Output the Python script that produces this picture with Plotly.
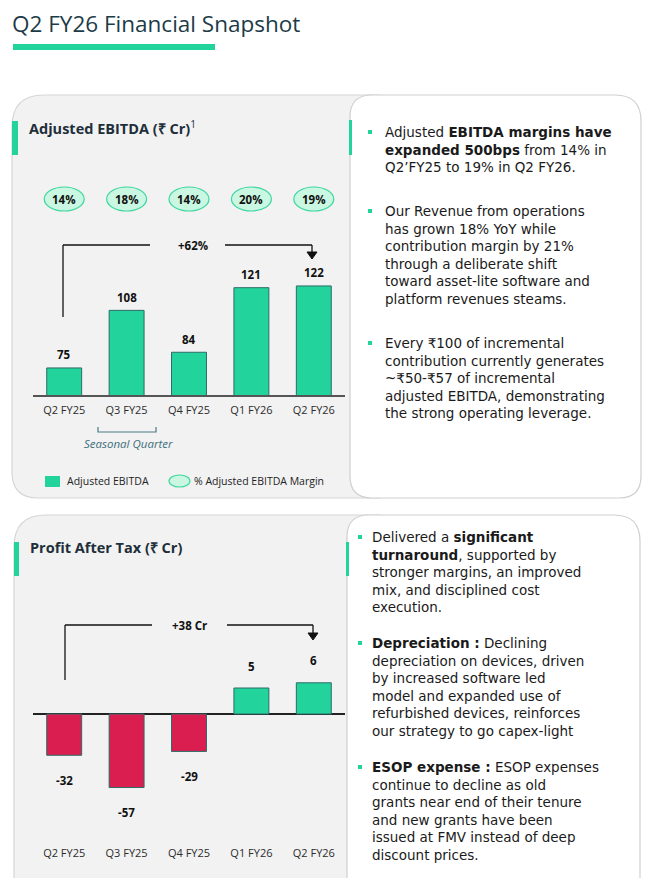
import plotly.graph_objects as go

W, H = 661, 878
OFF = 8  # page body margin of the browser


def X(p):
    return (p - OFF) / W


def Y(p):
    return 1 - (p - OFF) / H


# ---------------- data ----------------
quarters = ["Q2 FY25", "Q3 FY25", "Q4 FY25", "Q1 FY26", "Q2 FY26"]
ebitda = [75, 108, 84, 121, 122]
ebitda_margin = ["14%", "18%", "14%", "20%", "19%"]
pat = [-32, -57, -29, 5, 6]
ebitda_change = "+62%"
pat_change = "+38 Cr"

title_text = "Q2 FY26 Financial Snapshot"
ebitda_title = "<b>Adjusted EBITDA (₹ Cr)</b><sup>1</sup>"
pat_title = "<b>Profit After Tax (₹ Cr)</b>"

ebitda_notes = [
    ["Adjusted <b>EBITDA margins have</b>",
     "<b>expanded 500bps</b> from 14% in",
     "Q2’FY25 to 19% in Q2 FY26."],
    ["Our Revenue from operations",
     "has grown 18% YoY while",
     "contribution margin by 21%",
     "through a deliberate shift",
     "toward asset-lite software and",
     "platform revenues steams."],
    ["Every ₹100 of incremental",
     "contribution currently generates",
     "~₹50-₹57 of incremental",
     "adjusted EBITDA, demonstrating",
     "the strong operating leverage."],
]
pat_notes = [
    ["Delivered a <b>significant</b>",
     "<b>turnaround</b>, supported by",
     "stronger margins, an improved",
     "mix, and disciplined cost",
     "execution."],
    ["<b>Depreciation :</b> Declining",
     "depreciation on devices, driven",
     "by increased software led",
     "model and expanded use of",
     "refurbished devices, reinforces",
     "our strategy to go capex-light"],
    ["<b>ESOP expense :</b> ESOP expenses",
     "continue to decline as old",
     "grants near end of their tenure",
     "and new grants have been",
     "issued at FMV instead of deep",
     "discount prices."],
]

# ---------------- style ----------------
FONT = "Open Sans"
NOTE_FONT = "DejaVu Sans"
GREEN = "#22D39C"
RED = "#DA1E50"
EDGE = "#2d6b68"
PILL_FILL = "#c9f7e1"
PILL_LINE = "#3fd6a1"
DARK = "#1d3b47"
TXT = "#1a1a1a"

pat_neg = [v if v < 0 else None for v in pat]
pat_pos = [v if v > 0 else None for v in pat]

fig = go.Figure()
fig.add_trace(go.Bar(x=quarters, y=ebitda, xaxis="x", yaxis="y",
                     marker=dict(color=GREEN, line=dict(color=EDGE, width=1)),
                     showlegend=False, hoverinfo="skip"))
fig.add_trace(go.Bar(x=quarters, y=pat_neg, xaxis="x2", yaxis="y3",
                     marker=dict(color=RED, line=dict(color=EDGE, width=1)),
                     showlegend=False, hoverinfo="skip"))
fig.add_trace(go.Bar(x=quarters, y=pat_pos, xaxis="x2", yaxis="y4",
                     marker=dict(color=GREEN, line=dict(color=EDGE, width=1)),
                     showlegend=False, hoverinfo="skip"))


def rrect(x0, y0, x1, y1, rtl, rtr, rbr, rbl):
    pts = []
    pts.append(f"M {X(x0 + rtl)},{Y(y0)}")
    pts.append(f"L {X(x1 - rtr)},{Y(y0)}")
    pts.append(f"Q {X(x1)},{Y(y0)} {X(x1)},{Y(y0 + rtr)}")
    pts.append(f"L {X(x1)},{Y(y1 - rbr)}")
    pts.append(f"Q {X(x1)},{Y(y1)} {X(x1 - rbr)},{Y(y1)}")
    pts.append(f"L {X(x0 + rbl)},{Y(y1)}")
    pts.append(f"Q {X(x0)},{Y(y1)} {X(x0)},{Y(y1 - rbl)}")
    pts.append(f"L {X(x0)},{Y(y0 + rtl)}")
    pts.append(f"Q {X(x0)},{Y(y0)} {X(x0 + rtl)},{Y(y0)}")
    pts.append("Z")
    return " ".join(pts)


shapes = []


def prect(x0, y0, x1, y1, fill, line=None, lw=0, layer="below"):
    shapes.append(dict(type="rect", xref="paper", yref="paper",
                       x0=X(x0), x1=X(x1), y0=Y(y1), y1=Y(y0),
                       fillcolor=fill, line=dict(color=line or fill, width=lw),
                       layer=layer))


def pline(x0, y0, x1, y1, color="#111111", width=1.3):
    shapes.append(dict(type="line", xref="paper", yref="paper",
                       x0=X(x0), x1=X(x1), y0=Y(y0), y1=Y(y1),
                       line=dict(color=color, width=width)))


def ppath(d, fill, line, lw=1, layer="below"):
    shapes.append(dict(type="path", xref="paper", yref="paper", path=d,
                       fillcolor=fill, line=dict(color=line, width=lw), layer=layer))


# panels
ppath(rrect(12, 95, 380, 498, 32, 0, 0, 26), "#f2f2f2", "#d6d6d6", 1.2)
ppath(rrect(350, 95, 641, 498, 22, 26, 22, 22), "#ffffff", "#cfcfcf", 1.2)
ppath(rrect(14, 515, 380, 900, 32, 0, 0, 0), "#f2f2f2", "#d6d6d6", 1.2)
ppath(rrect(347, 515, 640, 900, 22, 26, 0, 0), "#ffffff", "#cfcfcf", 1.2)

# accents
prect(12, 121, 18, 155, GREEN)
prect(349, 120, 352, 155, GREEN)
prect(14, 542, 19, 576, GREEN)
prect(346, 542, 349, 576, GREEN)

# title underline
prect(13, 44, 215, 50, GREEN, layer="above")

# margin pills (on category axis)
pill_half = 0.32
for i, m in enumerate(ebitda_margin):
    shapes.append(dict(type="circle", xref="x", yref="paper",
                       x0=i - pill_half, x1=i + pill_half, y0=Y(211), y1=Y(187),
                       fillcolor=PILL_FILL, line=dict(color=PILL_LINE, width=1.2)))

# +62% bracket
pline(63, 317, 63, 245)
pline(63, 245, 150, 245)
pline(225, 245, 312, 245)
pline(312, 245, 312, 252)
ppath(f"M {X(307)},{Y(252)} L {X(317)},{Y(252)} L {X(312)},{Y(259)} Z",
      "#111111", "#111111", 1, layer="above")

# +38 Cr bracket
pline(65, 680, 65, 625)
pline(65, 625, 152, 625)
pline(227, 625, 313, 625)
pline(313, 625, 313, 633)
ppath(f"M {X(308)},{Y(633)} L {X(318)},{Y(633)} L {X(313)},{Y(640)} Z",
      "#111111", "#111111", 1, layer="above")

# seasonal quarter bracket
shapes.append(dict(type="path", xref="paper", yref="paper",
                   path=f"M {X(98)},{Y(427)} L {X(98)},{Y(432)} L {X(156)},{Y(432)} L {X(156)},{Y(427)}",
                   line=dict(color="#4a7a85", width=1.2)))

# legend
prect(45, 476, 60, 487, GREEN, layer="above")
shapes.append(dict(type="circle", xref="paper", yref="paper",
                   x0=X(169), x1=X(190), y0=Y(487), y1=Y(475),
                   fillcolor=PILL_FILL, line=dict(color=PILL_LINE, width=1.2)))

# bullets
for yy in (132, 211, 343):
    prect(368, yy - 2, 372, yy + 2, GREEN, layer="above")
for yy in (537, 643, 767):
    prect(358, yy - 2, 362, yy + 2, GREEN, layer="above")

ann = []


def ptext(x, y, text, size=14, color=TXT, xanchor="left", bold=False, italic=False,
          family=FONT, weight=None):
    t = text
    if bold:
        t = f"<b>{t}</b>"
    if italic:
        t = f"<i>{t}</i>"
    f = dict(family=family, size=size, color=color)
    if weight:
        f["weight"] = weight
    ann.append(dict(xref="paper", yref="paper", x=X(x), y=Y(y), text=t,
                    showarrow=False, xanchor=xanchor, yanchor="middle", align="left",
                    borderpad=0, font=f))


ptext(11, 23, title_text, size=22.5, color=DARK, weight=500)
ptext(28, 127, ebitda_title, size=14.5, color="#1e2f3a")
ptext(29, 547, pat_title, size=14.5, color="#1e2f3a")
ptext(193, 245, ebitda_change, size=11.5, color="#111111", xanchor="center", bold=True)
ptext(189, 625, pat_change, size=11.5, color="#111111", xanchor="center", bold=True)
ptext(128, 443, "Seasonal Quarter", size=11.5, color="#3e6f7c", xanchor="center", italic=True)
ptext(66, 481, "Adjusted EBITDA", size=10.5, color="#222222")
ptext(193, 481, "% Adjusted EBITDA Margin", size=10.5, color="#222222")

# pill texts
for q, m in zip(quarters, ebitda_margin):
    ann.append(dict(xref="x", yref="paper", x=q, y=Y(199), text=f"<b>{m}</b>",
                    showarrow=False, xanchor="center", yanchor="middle",
                    font=dict(family=FONT, size=11.5, color="#111111")))

# value labels
for q, v in zip(quarters, ebitda):
    ann.append(dict(xref="x", yref="y", x=q, y=v, yshift=13, text=f"<b>{v}</b>",
                    showarrow=False, xanchor="center", yanchor="middle",
                    font=dict(family=FONT, size=11.5, color="#111111")))
for q, v in zip(quarters, pat):
    ann.append(dict(xref="x2", yref="y3" if v < 0 else "y4", x=q, y=v,
                    yshift=-25 if v < 0 else 22, text=f"<b>{v}</b>",
                    showarrow=False, xanchor="center", yanchor="middle",
                    font=dict(family=FONT, size=11.5, color="#111111")))

# notes: one multi-line text per paragraph (line pitch = 1.3 * font size)
NOTE_SIZE = 13.5
PITCH = 1.3 * NOTE_SIZE
for start, para in zip([132, 211, 343], ebitda_notes):
    mid = start + (len(para) - 1) * PITCH / 2
    ptext(384, mid, "<br>".join(para), size=NOTE_SIZE, family=NOTE_FONT)
for start, para in zip([537, 643, 767], pat_notes):
    mid = start + (len(para) - 1) * PITCH / 2
    ptext(371, mid, "<br>".join(para), size=NOTE_SIZE, family=NOTE_FONT)

# axes geometry (pixel positions in the reference)
EB_TOP, EB_BASE = 250, 395
EB_LO = 59.5
EB_SCALE = 1.745
PAT_TOP, PAT_ZERO, PAT_BOT = 600, 714, 839
NEG_SCALE, POS_SCALE = 1.29, 5.2

fig.update_layout(
    width=W, height=H,
    margin=dict(l=0, r=0, t=0, b=0),
    paper_bgcolor="#ffffff",
    plot_bgcolor="rgba(0,0,0,0)",
    barmode="overlay",
    bargap=0.44,
    shapes=shapes,
    annotations=ann,
    font=dict(family=FONT),
    xaxis=dict(domain=[X(33), X(345)], anchor="y", type="category",
               showline=True, linecolor="#555555", linewidth=1.5,
               showgrid=False, zeroline=False, ticks="", ticklabelstandoff=4,
               tickfont=dict(family=FONT, size=11, color="#2b2b2b")),
    yaxis=dict(domain=[Y(EB_BASE), Y(EB_TOP)],
               range=[EB_LO, EB_LO + (EB_BASE - EB_TOP) / EB_SCALE],
               visible=False),
    xaxis2=dict(domain=[X(33), X(345)], anchor="y3", type="category",
                showline=False, showgrid=False, zeroline=False, ticks="",
                ticklabelstandoff=6,
                tickfont=dict(family=FONT, size=11, color="#2b2b2b")),
    yaxis3=dict(domain=[Y(PAT_BOT), Y(PAT_TOP)],
                range=[-(PAT_BOT - PAT_ZERO) / NEG_SCALE, (PAT_ZERO - PAT_TOP) / NEG_SCALE],
                showgrid=False, showticklabels=False, showline=False, ticks="",
                zeroline=True, zerolinecolor="#222222", zerolinewidth=1.5,
                anchor="x2"),
    yaxis4=dict(overlaying="y3", anchor="x2",
                range=[-(PAT_BOT - PAT_ZERO) / POS_SCALE, (PAT_ZERO - PAT_TOP) / POS_SCALE],
                visible=False),
)

fig.write_html("out.html")
